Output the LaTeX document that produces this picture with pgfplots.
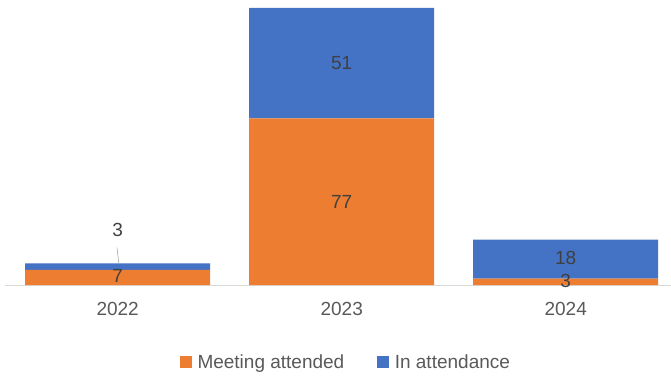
\documentclass[border=0pt]{standalone}
\usepackage{fontspec}
\setmainfont{Liberation Sans}
\usepackage{pgfplots}
\pgfplotsset{compat=1.18}
\definecolor{cOrange}{HTML}{ED7D31}
\definecolor{cBlue}{HTML}{4472C4}
\definecolor{cLabel}{HTML}{404040}
\definecolor{cTick}{HTML}{595959}
\definecolor{cAxis}{HTML}{D9D9D9}
\newcommand{\ff}{\fontsize{19bp}{21bp}\selectfont}
\pgfplotsset{
  sqlegend/.style={legend image code/.code={\fill[##1] (0bp,-6bp) rectangle (12bp,6bp);}},
}
\tikzset{lab/.style={font=\ff, text=cLabel}}
\begin{document}
\begin{tikzpicture}
\path[use as bounding box] (-5bp,-93bp) rectangle (666bp,285bp);
\begin{axis}[
  at={(0,0)}, anchor=south west,
  scale only axis, width=666bp, height=277bp,
  xmin=-0.503, xmax=2.47, ymin=0, ymax=128,
  ybar stacked, bar width=185bp,
  hide y axis,
  axis x line*=bottom,
  x axis line style={draw=cAxis, line width=0.8bp},
  xtick={0,1,2}, xticklabels={2022,2023,2024},
  major tick length=0pt,
  xticklabel style={font=\ff, text=cTick, yshift=-14bp},
  clip=false,
  legend columns=2,
  legend style={at={(rel axis cs:0.512,-0.278)}, anchor=center, draw=none, fill=none,
    font=\ff, text=cTick,
    /tikz/every odd column/.append style={column sep=3.5bp},
    /tikz/every even column/.append style={column sep=31bp}},
  sqlegend,
]
\addplot[fill=cOrange, draw=none] coordinates {(0,7) (1,77) (2,3)};
\addlegendentry{Meeting attended}
\addplot[fill=cBlue, draw=none] coordinates {(0,3) (1,51) (2,18)};
\addlegendentry{In attendance}
\coordinate (a7) at (axis cs:0,4.0);
\coordinate (a3) at (axis cs:0,25.4);
\coordinate (l1) at (axis cs:-0.003,17.3);
\coordinate (l2) at (axis cs:0.005,10.0);
\coordinate (b77) at (axis cs:1,38.5);
\coordinate (b51) at (axis cs:1,102.5);
\coordinate (c3) at (axis cs:2,1.8);
\coordinate (c18) at (axis cs:2,12.5);
\end{axis}
\node[lab] at (a7) {7};
\node[lab] at (a3) {3};
\draw[gray!70, line width=0.6bp] (l1) -- (l2);
\node[lab] at (b77) {77};
\node[lab] at (b51) {51};
\node[lab] at (c3) {3};
\node[lab] at (c18) {18};
\end{tikzpicture}
\end{document}
